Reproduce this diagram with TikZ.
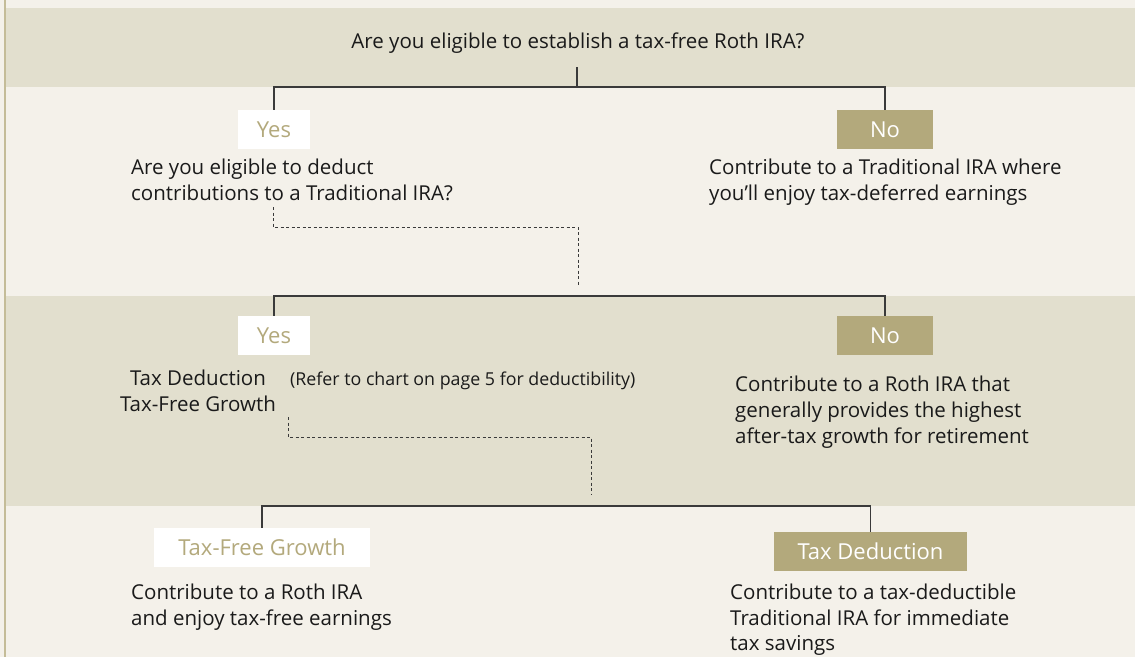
\documentclass[tikz,border=0pt]{standalone}
\usepackage{fontspec}
\setmainfont{Open Sans}
\definecolor{bgc}{HTML}{F4F1EA}
\definecolor{bandc}{HTML}{E2DFCE}
\definecolor{tanc}{HTML}{B3A97C}
\definecolor{borderc}{HTML}{C4BC98}
\definecolor{inkc}{HTML}{1A1A1A}
\definecolor{linec}{HTML}{3A3A3A}
\tikzset{
  body/.style={inner sep=0pt, text=inkc, font=\fontsize{20.5}{26}\selectfont, align=left},
  note/.style={inner sep=0pt, text=inkc, font=\fontsize{17.8}{20}\selectfont},
  yesbox/.style={fill=white, text=tanc, inner sep=0pt, minimum height=39pt, font=\fontsize{22}{24}\selectfont},
  nobox/.style={fill=tanc, text=white, inner sep=0pt, minimum height=39pt, font=\fontsize{22}{24}\selectfont},
  conn/.style={draw=linec, line width=1.4pt},
  dconn/.style={draw=linec, line width=1pt, dash pattern=on 3pt off 2.5pt},
}
\begin{document}
\begin{tikzpicture}[x=1pt,y=-1pt]
\useasboundingbox (0,0) rectangle (1135,657);
\fill[bgc] (0,0) rectangle (1135,657);
\fill[bandc] (6,8) rectangle (1135,87);
\fill[bandc] (6,296) rectangle (1135,506);
\fill[borderc] (4,0) rectangle (6,657);

% level 1
\node[body, anchor=base] (q1) at (578,48) {Are you eligible to establish a tax-free Roth IRA?};
\coordinate (q1stem) at (577,67);
\coordinate (j1) at (577,87);
\node[yesbox, minimum width=72pt] (yes1) at (274,129.5) {Yes};
\node[nobox, minimum width=96pt] (no1) at (885,129.5) {No};
\draw[conn] (q1stem) -- (j1);
\draw[conn] (yes1.north) -- (yes1.north |- j1) -- (no1.north |- j1) -- (no1.north);

\node[body, anchor=base west] (q2a) at (131,174) {Are you eligible to deduct};
\node[body, anchor=base west] (q2b) at (131,200) {contributions to a Traditional IRA?};
\node[body, anchor=base west] (r1a) at (709,174) {Contribute to a Traditional IRA where};
\node[body, anchor=base west] (r1b) at (709,200) {you’ll enjoy tax-deferred earnings};

\coordinate (d1s) at (273,207);
\coordinate (d1e) at (578,285);
\draw[dconn] (d1s) -- (273,227) -| (d1e);

% level 2
\coordinate (j2) at (578,296);
\node[yesbox, minimum width=72pt] (yes2) at (274,335.5) {Yes};
\node[nobox, minimum width=96pt] (no2) at (885,335.5) {No};
\draw[conn] (yes2.north) -- (yes2.north |- j2) -- (no2.north |- j2) -- (no2.north);

\node[body, anchor=base] (t2a) at (198,385) {Tax Deduction};
\node[body, anchor=base] (t2b) at (198,411) {Tax-Free Growth};
\node[note, anchor=base west] (ref) at (290,385) {(Refer to chart on page 5 for deductibility)};
\node[body, anchor=base west] (r2a) at (735,391) {Contribute to a Roth IRA that};
\node[body, anchor=base west] (r2b) at (735,417) {generally provides the highest};
\node[body, anchor=base west] (r2c) at (735,443) {after-tax growth for retirement};

\coordinate (d2s) at (288,417);
\coordinate (d2e) at (591,495);
\draw[dconn] (d2s) -- (288,437) -| (d2e);

% level 3
\coordinate (j3) at (591,506);
\node[yesbox, minimum width=216pt] (tfg) at (262,547.5) {Tax-Free Growth};
\node[nobox, minimum width=193pt] (tded) at (870.5,551.5) {Tax Deduction};
\draw[conn] (tfg.north) -- (tfg.north |- j3) -- (tded.north |- j3) -- (tded.north);

\node[body, anchor=base west] (b1a) at (131,599) {Contribute to a Roth IRA};
\node[body, anchor=base west] (b1b) at (131,625) {and enjoy tax-free earnings};
\node[body, anchor=base west] (b2a) at (730,599) {Contribute to a tax-deductible};
\node[body, anchor=base west] (b2b) at (730,625) {Traditional IRA for immediate};
\node[body, anchor=base west] (b2c) at (730,650) {tax savings};
\end{tikzpicture}
\end{document}
